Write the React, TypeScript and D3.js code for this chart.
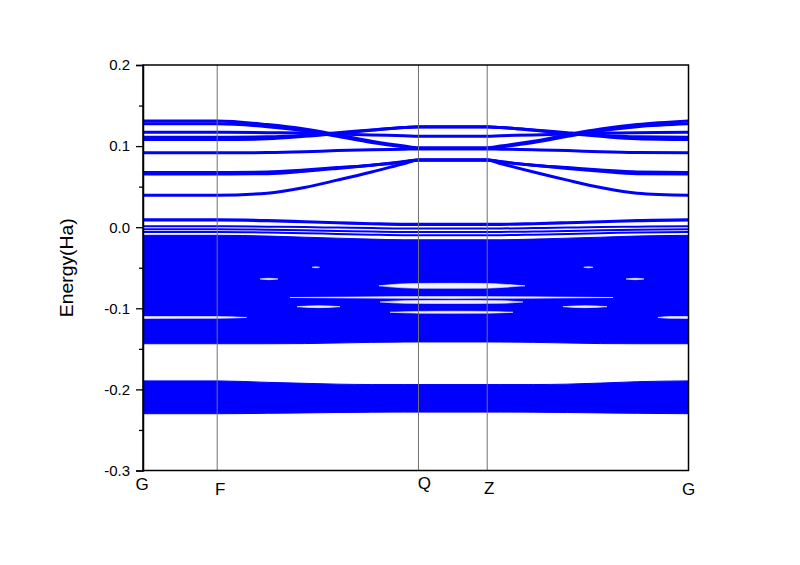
import React, { useEffect, useRef } from 'react';
import * as d3 from 'd3';

// k-path positions of the high-symmetry points (fraction of path length)
const kTicks = [0, 0.136, 0.505, 0.631, 1];
const kLabels = ['G', 'F', 'Q', 'Z', 'G'];

// sample points along the path used by every band
const kSamples = [0, 0.136, 0.228, 0.296, 0.356, 0.419, 0.479, 0.505, 0.631, 0.655, 0.716, 0.778, 0.839, 0.906, 1];

// conduction bands (Ha)
const condBands = [
  [0.131, 0.131, 0.1265, 0.121, 0.114, 0.106, 0.100, 0.098, 0.098, 0.100, 0.106, 0.114, 0.121, 0.1265, 0.131],
  [0.1275, 0.1275, 0.124, 0.119, 0.112, 0.1045, 0.099, 0.097, 0.097, 0.099, 0.1045, 0.112, 0.119, 0.124, 0.1275],
  [0.117, 0.117, 0.1165, 0.116, 0.115, 0.1138, 0.1128, 0.1123, 0.1123, 0.1128, 0.1138, 0.115, 0.116, 0.1165, 0.117],
  [0.111, 0.111, 0.1115, 0.1135, 0.1165, 0.120, 0.123, 0.1238, 0.1238, 0.123, 0.120, 0.1165, 0.1135, 0.1115, 0.111],
  [0.108, 0.108, 0.109, 0.112, 0.1155, 0.1195, 0.1228, 0.1235, 0.1235, 0.1228, 0.1195, 0.1155, 0.112, 0.109, 0.108],
  [0.0917, 0.0917, 0.092, 0.093, 0.0945, 0.0955, 0.0962, 0.0965, 0.0965, 0.0962, 0.0955, 0.0945, 0.093, 0.092, 0.0917],
  [0.0675, 0.0675, 0.068, 0.0705, 0.0735, 0.0765, 0.081, 0.083, 0.083, 0.081, 0.0765, 0.0735, 0.0705, 0.068, 0.0675],
  [0.0655, 0.0655, 0.066, 0.069, 0.0725, 0.0765, 0.0805, 0.0828, 0.0828, 0.0805, 0.0765, 0.0725, 0.069, 0.066, 0.0655],
  [0.0395, 0.0395, 0.042, 0.049, 0.058, 0.068, 0.0786, 0.083, 0.083, 0.0786, 0.068, 0.058, 0.049, 0.042, 0.0395],
];

// top valence bands just below zero
const valTopBands = [
  [0.0097, 0.0097, 0.0088, 0.0074, 0.0062, 0.005, 0.0042, 0.0042, 0.0042, 0.0042, 0.005, 0.0062, 0.0074, 0.0088, 0.0097],
  [0.0083, 0.0083, 0.0074, 0.006, 0.0048, 0.0036, 0.0028, 0.0028, 0.0028, 0.0028, 0.0036, 0.0048, 0.006, 0.0074, 0.0083],
  [0.0012, 0.0012, 0.0007, 0.0001, -0.0005, -0.0011, -0.0015, -0.0015, -0.0015, -0.0015, -0.0011, -0.0005, 0.0001, 0.0007, 0.0012],
  [-0.0025, -0.0025, -0.0031, -0.0039, -0.0046, -0.0053, -0.0058, -0.0058, -0.0058, -0.0058, -0.0053, -0.0046, -0.0039, -0.0031, -0.0025],
  [-0.0058, -0.0058, -0.0065, -0.0074, -0.0083, -0.0092, -0.0098, -0.0098, -0.0098, -0.0098, -0.0092, -0.0083, -0.0074, -0.0065, -0.0058],
];

// dense valence manifolds: upper and lower envelope (Ha)
const upperManifoldTop = [-0.0100, -0.0100, -0.0109, -0.0123, -0.0135, -0.0147, -0.0155, -0.0155, -0.0155, -0.0155, -0.0147, -0.0135, -0.0123, -0.0109, -0.0100];
const upperManifoldBottom = [-0.1437, -0.1437, -0.1437, -0.1435, -0.1428, -0.1420, -0.1416, -0.1415, -0.1415, -0.1416, -0.1420, -0.1428, -0.1435, -0.1437, -0.1437];
const lowerManifoldTop = [-0.1895, -0.1895, -0.1913, -0.1925, -0.1935, -0.1940, -0.1940, -0.1940, -0.1940, -0.1940, -0.1940, -0.1935, -0.1922, -0.1905, -0.1895];
const lowerManifoldBottom = [-0.2300, -0.2300, -0.2295, -0.2290, -0.2285, -0.2281, -0.2280, -0.2280, -0.2280, -0.2280, -0.2281, -0.2285, -0.2290, -0.2295, -0.2300];

// small openings between bands inside the dense manifold
const manifoldGaps = [
  { k: [0.310, 0.3165, 0.3235], hi: [-0.0494, -0.0488, -0.0494], lo: [-0.0494, -0.0500, -0.0494] },
  { k: [0.808, 0.8167, 0.825], hi: [-0.0494, -0.0488, -0.0494], lo: [-0.0494, -0.0500, -0.0494] },
  { k: [0.2145, 0.231, 0.2475], hi: [-0.0638, -0.0630, -0.0638], lo: [-0.0638, -0.0647, -0.0638] },
  { k: [0.8854, 0.9019, 0.9184], hi: [-0.0638, -0.0630, -0.0638], lo: [-0.0638, -0.0647, -0.0638] },
  { k: [0.4326, 0.4711, 0.5078, 0.5665, 0.6306, 0.6636, 0.7003], hi: [-0.0723, -0.0700, -0.0693, -0.0692, -0.0694, -0.0705, -0.0723], lo: [-0.0723, -0.0745, -0.0753, -0.0754, -0.0752, -0.0740, -0.0723] },
  { k: [0.2695, 0.3795, 0.5665, 0.7553, 0.8616], hi: [-0.0867, -0.0861, -0.0856, -0.0861, -0.0867], lo: [-0.0867, -0.0873, -0.0878, -0.0873, -0.0867] },
  { k: [0.4345, 0.4803, 0.5665, 0.6545, 0.6966], hi: [-0.0922, -0.0906, -0.0903, -0.0906, -0.0922], lo: [-0.0922, -0.0938, -0.0941, -0.0938, -0.0922] },
  { k: [0.2823, 0.3217, 0.3611], hi: [-0.0980, -0.0968, -0.0980], lo: [-0.0980, -0.0992, -0.0980] },
  { k: [0.770, 0.8103, 0.8506], hi: [-0.0980, -0.0968, -0.0980], lo: [-0.0980, -0.0992, -0.0980] },
  { k: [0.4528, 0.5078, 0.5665, 0.6306, 0.6783], hi: [-0.1049, -0.1038, -0.1036, -0.1038, -0.1049], lo: [-0.1049, -0.1060, -0.1062, -0.1060, -0.1049] },
  { k: [0, 0.136, 0.19], hi: [-0.1101, -0.1102, -0.1113], lo: [-0.1125, -0.1124, -0.1113] },
  { k: [0.944, 0.966, 1], hi: [-0.1113, -0.1102, -0.1101], lo: [-0.1113, -0.1124, -0.1125] },
];

const yTicks = [-0.3, -0.2, -0.1, 0.0, 0.1, 0.2];
const yMinorTicks = [-0.25, -0.15, -0.05, 0.05, 0.15];

// label offsets from the tick, as laid out in the original
const labelNudge = [[-1, 19], [3, 24], [6, 18], [2, 23], [0, 24]];

const BLUE = '#0000ff';
const FONT = '"Liberation Sans", Arial, sans-serif';

export default function App() {
  const svgRef = useRef<SVGSVGElement>(null);

  useEffect(() => {
    const width = 800;
    const height = 565;
    const margin = { top: 65, right: 111.5, bottom: 94.5, left: 143 };

    const svg = d3.select(svgRef.current).attr('width', width).attr('height', height);
    svg.selectAll('*').remove();

    svg.append('rect').attr('width', width).attr('height', height).attr('fill', '#fff');

    const x = d3.scaleLinear().domain([0, 1]).range([margin.left, width - margin.right]);
    const y = d3.scaleLinear().domain([-0.3, 0.2]).range([height - margin.bottom, margin.top]);

    svg.append('clipPath').attr('id', 'plot-clip')
      .append('rect')
      .attr('x', margin.left).attr('y', margin.top)
      .attr('width', width - margin.left - margin.right)
      .attr('height', height - margin.top - margin.bottom);

    const plot = svg.append('g').attr('clip-path', 'url(#plot-clip)');

    // dense manifolds
    const manifold = (top: number[], bottom: number[]) => {
      const gen = d3.area<number>()
        .x((_, i) => x(kSamples[i]))
        .y0((_, i) => y(bottom[i]))
        .y1((_, i) => y(top[i]))
        .curve(d3.curveMonotoneX);
      plot.append('path')
        .attr('d', gen(top) as string)
        .attr('fill', BLUE)
        .attr('stroke', BLUE)
        .attr('stroke-width', 1);
    };
    manifold(upperManifoldTop, upperManifoldBottom);
    manifold(lowerManifoldTop, lowerManifoldBottom);

    // openings inside the manifold
    manifoldGaps.forEach(g => {
      const gen = d3.area<number>()
        .x(d => x(d))
        .y0((_, i) => y(g.lo[i]))
        .y1((_, i) => y(g.hi[i]))
        .curve(d3.curveMonotoneX);
      plot.append('path')
        .attr('d', gen(g.k) as string)
        .attr('fill', '#fff')
        .attr('stroke', '#fff')
        .attr('stroke-width', 0.6)
        .attr('opacity', 0.95);
    });

    const line = d3.line<number>()
      .x((_, i) => x(kSamples[i]))
      .y(d => y(d))
      .curve(d3.curveMonotoneX);

    valTopBands.forEach(b => {
      plot.append('path')
        .attr('d', line(b) as string)
        .attr('fill', 'none')
        .attr('stroke', BLUE)
        .attr('stroke-width', 2);
    });

    condBands.forEach(b => {
      plot.append('path')
        .attr('d', line(b) as string)
        .attr('fill', 'none')
        .attr('stroke', BLUE)
        .attr('stroke-width', 3);
    });

    // high-symmetry vertical lines
    svg.append('g')
      .selectAll('line')
      .data(kTicks.slice(1, -1))
      .join('line')
      .attr('x1', d => x(d)).attr('x2', d => x(d))
      .attr('y1', margin.top).attr('y2', height - margin.bottom)
      .attr('stroke', '#707070')
      .attr('stroke-width', 1);

    // frame
    svg.append('rect')
      .attr('x', margin.left).attr('y', margin.top)
      .attr('width', width - margin.left - margin.right)
      .attr('height', height - margin.top - margin.bottom)
      .attr('fill', 'none')
      .attr('stroke', '#000')
      .attr('stroke-width', 1.5);

    // left axis
    const yAxis = svg.append('g')
      .attr('transform', `translate(${margin.left},0)`)
      .call(d3.axisLeft(y).tickValues(yTicks).tickSize(7).tickPadding(6)
        .tickFormat(d => d3.format('.1f')(d as number).replace('\u2212', '-')));
    yAxis.select('.domain').attr('stroke-width', 1.5);
    yAxis.selectAll('.tick line').attr('stroke-width', 1.3);
    yAxis.selectAll('text').attr('font-family', FONT).attr('font-size', 15).attr('fill', '#000');

    svg.append('g')
      .attr('transform', `translate(${margin.left},0)`)
      .call(d3.axisLeft(y).tickValues(yMinorTicks).tickSize(4).tickFormat(() => ''))
      .call(g => g.select('.domain').remove())
      .selectAll('.tick line').attr('stroke-width', 1.3);

    // k-point labels
    svg.append('g')
      .selectAll('text')
      .data(kTicks)
      .join('text')
      .attr('x', (d, i) => x(d) + labelNudge[i][0])
      .attr('y', (_, i) => height - margin.bottom + labelNudge[i][1])
      .attr('text-anchor', 'middle')
      .attr('font-family', FONT)
      .attr('font-size', 17)
      .text((_, i) => kLabels[i]);

    // y title
    svg.append('text')
      .attr('transform', `translate(73,${(margin.top + height - margin.bottom) / 2}) rotate(-90)`)
      .attr('text-anchor', 'middle')
      .attr('font-family', FONT)
      .attr('font-size', 18)
      .attr('textLength', 99)
      .attr('lengthAdjust', 'spacingAndGlyphs')
      .text('Energy(Ha)');
  }, []);

  return (
    <div style={{ position: 'absolute', left: 0, top: 0 }}>
      <svg ref={svgRef}></svg>
    </div>
  );
}
